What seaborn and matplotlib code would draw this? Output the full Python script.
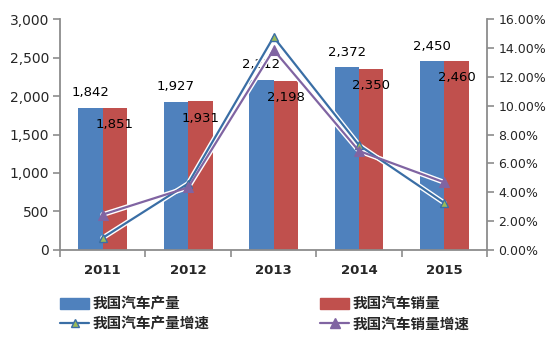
import matplotlib
matplotlib.use("Agg")
import matplotlib.pyplot as plt
from matplotlib.ticker import FuncFormatter, FixedLocator
import seaborn as sns
import numpy as np
import pandas as pd

years = ["2011", "2012", "2013", "2014", "2015"]
production = [1842, 1927, 2212, 2372, 2450]
sales = [1851, 1931, 2198, 2350, 2460]
prod_growth = [0.84, 4.60, 14.76, 7.26, 3.25]
sales_growth = [2.45, 4.33, 13.87, 6.86, 4.68]

prod_name = "我国汽车产量"
sales_name = "我国汽车销量"
prod_growth_name = "我国汽车产量增速"
sales_growth_name = "我国汽车销量增速"

sns.set_style("white")
plt.rcParams["font.family"] = ["DejaVu Sans", "Noto Sans CJK SC"]

df = pd.DataFrame(
    {
        "year": years * 2,
        "value": production + sales,
        "series": [prod_name] * 5 + [sales_name] * 5,
    }
)

fig = plt.figure(figsize=(5.51, 3.54), dpi=100)
ax = fig.add_axes([0.109, 0.294, 0.775, 0.652])

sns.barplot(
    data=df,
    x="year",
    y="value",
    hue="series",
    palette=["#4F81BD", "#C0504D"],
    width=0.57,
    saturation=1,
    linewidth=0,
    ax=ax,
    legend=False,
)

# data labels: production above, sales just inside the bar top
for bar, v in zip(ax.patches[:5], production):
    ax.annotate(f"{v:,}", (bar.get_x() + bar.get_width() / 2, bar.get_height()),
                xytext=(0, 11), textcoords="offset points", ha="center", va="center",
                fontsize=9.5, color="black")
for bar, v in zip(ax.patches[5:10], sales):
    ax.annotate(f"{v:,}", (bar.get_x() + bar.get_width() / 2, bar.get_height()),
                xytext=(0, -12), textcoords="offset points", ha="center", va="center",
                fontsize=9.5, color="black")

ax.set_ylim(0, 3000)
ax.set_xlim(-0.5, 4.5)
ax.set_yticks(np.arange(0, 3001, 500))
ax.yaxis.set_major_formatter(FuncFormatter(lambda v, p: f"{int(v):,}"))
ax.set_xlabel("")
ax.set_ylabel("")

ax2 = ax.twinx()
xs = np.arange(5)
prod_col = "#3A6EA5"
sales_col = "#8064A2"
# white halo under lines
for g in (prod_growth, sales_growth):
    sns.lineplot(x=xs, y=g, ax=ax2, color="white", linewidth=3.6)
sns.lineplot(x=xs, y=prod_growth, ax=ax2, color=prod_col, linewidth=1.6,
             marker="^", markersize=5.5, markerfacecolor="#9BBB59",
             markeredgecolor=prod_col, markeredgewidth=1)
sns.lineplot(x=xs, y=sales_growth, ax=ax2, color=sales_col, linewidth=1.6,
             marker="^", markersize=6.5, markerfacecolor=sales_col,
             markeredgecolor=sales_col, markeredgewidth=0.8)
ax2.set_ylim(0, 16)
ax2.set_yticks(np.arange(0, 16.1, 2))
ax2.yaxis.set_major_formatter(FuncFormatter(lambda v, p: f"{v:.2f}%"))
ax2.set_xlim(-0.5, 4.5)

spine_col = "#8C8C8C"
for a in (ax, ax2):
    a.spines["top"].set_visible(False)
    for s in ("left", "right", "bottom"):
        a.spines[s].set_color(spine_col)
        a.spines[s].set_linewidth(1.3)
ax.spines["right"].set_visible(False)
ax2.spines["left"].set_visible(False)
ax2.spines["bottom"].set_visible(False)

ax.tick_params(axis="y", direction="out", length=5, color=spine_col, width=1.2,
               labelsize=10, left=True, pad=3)
ax2.tick_params(axis="y", direction="out", length=5, color=spine_col, width=1.2,
                labelsize=9, right=True, pad=3)
ax.set_xticks(xs)
ax.set_xticklabels(years, fontsize=9.5, fontweight="bold")
ax.tick_params(axis="x", which="major", length=0, pad=10)
ax.xaxis.set_minor_locator(FixedLocator(np.arange(-0.5, 5, 1)))
ax.tick_params(axis="x", which="minor", direction="out", length=5, color=spine_col,
               width=1.2, bottom=True)

handles = [
    plt.Rectangle((0, 0), 1, 1, color="#4F81BD"),
    plt.Line2D([], [], color=prod_col, lw=1.6, marker="^", markersize=5.5,
               markerfacecolor="#9BBB59", markeredgecolor=prod_col),
    plt.Rectangle((0, 0), 1, 1, color="#C0504D"),
    plt.Line2D([], [], color=sales_col, lw=1.6, marker="^", markersize=6.5,
               markerfacecolor=sales_col, markeredgecolor=sales_col),
]
labels = [prod_name, prod_growth_name, sales_name, sales_growth_name]
fig.legend(handles, labels, loc="upper left", bbox_to_anchor=(0.109, 0.166),
           ncol=2, frameon=False, borderpad=0, borderaxespad=0,
           handlelength=2.0, handleheight=0.8, handletextpad=0.2,
           labelspacing=0.3, columnspacing=7.6,
           prop={"family": "Noto Sans CJK SC", "size": 10.5, "weight": "bold"})

fig.savefig("out.png", dpi=100)
